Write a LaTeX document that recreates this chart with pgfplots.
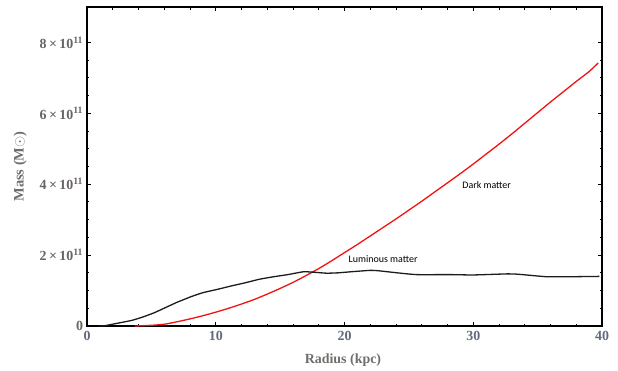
\documentclass[border=0pt]{standalone}
\usepackage{pgfplots}
\pgfplotsset{compat=1.18}
\usepackage{fontspec}
\setmainfont{Liberation Serif}
\newfontfamily\notefont{Carlito}

\definecolor{ticky}{RGB}{105,100,96}
\definecolor{tickx}{RGB}{98,106,124}
\definecolor{labgray}{RGB}{112,110,108}
\definecolor{dmred}{RGB}{242,18,18}
\definecolor{lmblack}{RGB}{28,28,28}

% enclosed mass, in units of 10^11 solar masses
\begin{document}
\begin{tikzpicture}
\path[use as bounding box] (-87bp,-45bp) rectangle (531bp,326bp);
\begin{axis}[
  at={(0,0)}, anchor=south west,
  scale only axis, width=515bp, height=319bp,
  xmin=0, xmax=40, ymin=0, ymax=9,
  xtick={0,10,20,30,40}, minor x tick num=4,
  ytick={0,2,4,6,8}, minor y tick num=3,
  yticklabels={0, 2\,×\,10\textsuperscript{11}, 4\,×\,10\textsuperscript{11}, 6\,×\,10\textsuperscript{11}, 8\,×\,10\textsuperscript{11}},
  tick align=inside, major tick length=4bp, minor tick length=2.5bp,
  every tick/.style={black, line width=0.9bp},
  axis line style={line width=1.2bp},
  /pgf/number format/assume math mode=true,
  xticklabel style={font=\fontsize{14}{16}\selectfont\bfseries, text=tickx, yshift=-1.5bp},
  yticklabel style={font=\fontsize{14}{16}\selectfont\bfseries, text=ticky, xshift=-0.5bp},
  xlabel={Radius (kpc)}, ylabel={Mass (M$\odot$)},
  xlabel style={at={(axis description cs:0.497,-0.1066)}, anchor=center, font=\fontsize{14}{16}\selectfont\bfseries, text=labgray},
  ylabel style={at={(axis description cs:-0.130,0.5)}, anchor=center, font=\fontsize{14.5}{16}\selectfont\bfseries, text=labgray},
]
\addplot[dmred, line width=1.3bp, smooth, tension=0.4] table {
x y
3.7 0.00
5.0 0.02
6.0 0.05
7.0 0.12
8.0 0.20
9.0 0.29
10.0 0.39
11.0 0.50
12.0 0.62
13.0 0.75
14.0 0.90
15.0 1.06
16.0 1.23
17.0 1.42
18.0 1.62
19.0 1.84
20.0 2.07
21.0 2.30
22.0 2.54
23.0 2.78
24.0 3.02
25.0 3.27
26.0 3.52
27.0 3.78
28.0 4.04
29.0 4.30
30.0 4.57
31.0 4.85
32.0 5.13
33.0 5.42
34.0 5.72
35.0 6.02
36.0 6.32
37.0 6.61
38.0 6.90
39.0 7.18
39.7 7.42
};
\addplot[lmblack, line width=1.3bp, smooth, tension=0.3] table {
x y
0.9 0.00
1.4 0.01
2.4 0.08
3.5 0.16
4.3 0.25
5.2 0.37
6.1 0.52
7.0 0.67
8.1 0.83
9.0 0.94
10.2 1.04
11.2 1.13
12.3 1.22
13.4 1.32
14.5 1.39
15.6 1.45
16.8 1.53
17.5 1.52
18.6 1.49
19.5 1.50
20.5 1.53
22.0 1.57
22.6 1.56
24.1 1.50
25.6 1.45
28.2 1.45
30.0 1.44
32.6 1.47
33.5 1.46
35.7 1.39
37.5 1.39
39.8 1.40
};
\node[font=\notefont\fontsize{10}{12}\selectfont, text=black] at (axis cs:31.04,3.99) {Dark matter};
\node[font=\notefont\fontsize{10}{12}\selectfont, text=black] at (axis cs:23.0,1.89) {Luminous matter};
\end{axis}
\end{tikzpicture}
\end{document}
